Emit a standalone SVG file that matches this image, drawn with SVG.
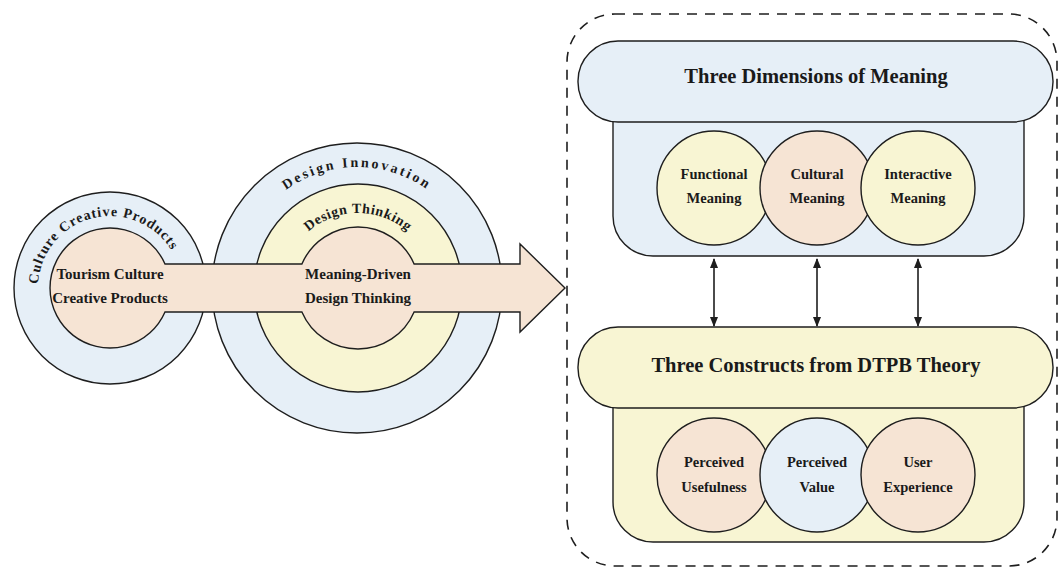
<svg xmlns="http://www.w3.org/2000/svg" width="1059" height="568" viewBox="0 0 1059 568">
<defs>
<style>
.ln{stroke:#1e1e1e;stroke-width:1.4}
.blue{fill:#e6eff7}
.yel{fill:#f8f5d3}
.pch{fill:#f6e4d4}
.t{font-family:"Liberation Serif","Times New Roman",serif;font-weight:bold;fill:#1a1a1a}
.c{text-anchor:middle}
</style>
<marker id="ah" viewBox="0 0 10 8" refX="9" refY="4" markerWidth="10" markerHeight="8" markerUnits="userSpaceOnUse" orient="auto-start-reverse">
<path d="M0,0 L10,4 L0,8 Z" fill="#1e1e1e"/>
</marker>
<path id="arcL" d="M44.2,317.3 A72,72 0 1 1 181.8,283"/>
<path id="arcMO" d="M236,288 A121,121 0 0 1 478,288"/>
<path id="arcMI" d="M283,288 A75,75 0 0 1 433,288"/>
</defs>
<rect width="1059" height="568" fill="#ffffff"/>

<g id="node-culture-creative-products">
<circle cx="110" cy="288" r="96" class="blue ln"/>
<text class="t" font-size="14" letter-spacing="1"><textPath href="#arcL" startOffset="50%" text-anchor="middle">Culture Creative Products</textPath></text>
</g>

<g id="node-design-innovation">
<circle cx="357" cy="288" r="145" class="blue ln"/>
<circle cx="358" cy="288" r="104" class="yel ln"/>
<text class="t" font-size="14" letter-spacing="2.5"><textPath href="#arcMO" startOffset="50%" text-anchor="middle">Design Innovation</textPath></text>
<text class="t" font-size="14" letter-spacing="0.6"><textPath href="#arcMI" startOffset="50%" text-anchor="middle">Design Thinking</textPath></text>
</g>

<g id="node-main-arrow">
<path d="M165,264 L301.9,264 A61,61 0 0 1 414.1,264 L520,264 L520,244 L565,288 L520,332 L520,312 L414.1,312 A61,61 0 0 1 301.9,312 L165,312 A60,60 0 1 1 165,264 Z" class="pch ln"/>
<text class="t c" font-size="15" x="110" y="279">Tourism Culture</text>
<text class="t c" font-size="15" x="110" y="303">Creative Products</text>
<text class="t c" font-size="15" x="358" y="279">Meaning-Driven</text>
<text class="t c" font-size="15" x="358" y="303">Design Thinking</text>
</g>

<g id="node-framework">
<rect x="567" y="14" width="490" height="552" rx="48" fill="none" stroke="#1e1e1e" stroke-width="1.6" stroke-dasharray="10 8"/>
</g>

<g id="node-meaning">
<path d="M613,110 L1024,110 L1024,216 A40,40 0 0 1 984,256 L653,256 A40,40 0 0 1 613,216 Z" class="blue ln"/>
<rect x="578" y="41" width="475" height="81" rx="40" class="blue ln"/>
<text class="t c" font-size="20.5" x="816" y="83">Three Dimensions of Meaning</text>
<circle cx="714" cy="188" r="57" class="yel ln"/>
<circle cx="817" cy="188" r="57" class="pch ln"/>
<circle cx="918" cy="188" r="57" class="yel ln"/>
<text class="t c" font-size="14.5" x="714" y="179">Functional</text>
<text class="t c" font-size="14.5" x="714" y="203">Meaning</text>
<text class="t c" font-size="14.5" x="817" y="179">Cultural</text>
<text class="t c" font-size="14.5" x="817" y="203">Meaning</text>
<text class="t c" font-size="14.5" x="918" y="179">Interactive</text>
<text class="t c" font-size="14.5" x="918" y="203">Meaning</text>
</g>

<g id="node-dtpb">
<path d="M613,400 L1024,400 L1024,502 A40,40 0 0 1 984,542 L653,542 A40,40 0 0 1 613,502 Z" class="yel ln"/>
<rect x="578" y="327" width="475" height="81" rx="40" class="yel ln"/>
<text class="t c" font-size="20.5" x="816" y="372">Three Constructs from DTPB Theory</text>
<circle cx="714" cy="475" r="57" class="pch ln"/>
<circle cx="817" cy="475" r="57" class="blue ln"/>
<circle cx="918" cy="475" r="57" class="pch ln"/>
<text class="t c" font-size="14.5" x="714" y="467">Perceived</text>
<text class="t c" font-size="14.5" x="714" y="492">Usefulness</text>
<text class="t c" font-size="14.5" x="817" y="467">Perceived</text>
<text class="t c" font-size="14.5" x="817" y="492">Value</text>
<text class="t c" font-size="14.5" x="918" y="467">User</text>
<text class="t c" font-size="14.5" x="918" y="492">Experience</text>
</g>

<g id="connectors" stroke="#1e1e1e" stroke-width="1.6" fill="none">
<line x1="714" y1="259" x2="714" y2="326" marker-start="url(#ah)" marker-end="url(#ah)"/>
<line x1="817" y1="259" x2="817" y2="326" marker-start="url(#ah)" marker-end="url(#ah)"/>
<line x1="918" y1="259" x2="918" y2="326" marker-start="url(#ah)" marker-end="url(#ah)"/>
</g>
</svg>
